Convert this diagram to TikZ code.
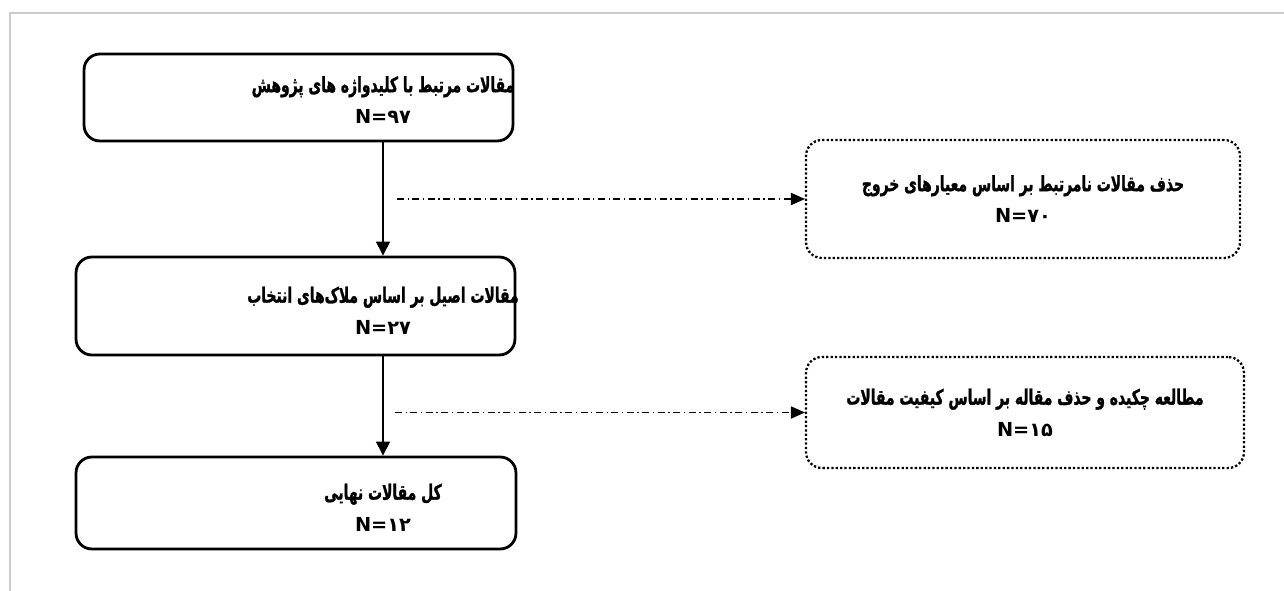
\documentclass[tikz,border=0pt]{standalone}
\usepackage{fontspec}
\setmainfont{DejaVu Sans}
\newfontfamily\arabicfont[Script=Arabic,FakeStretch=0.66,FakeBold=1.2]{DejaVu Sans}
\newfontfamily\numfont{DejaVu Sans}
\TeXXeTstate=1
\usetikzlibrary{arrows.meta}

\newcommand{\countline}[1]{{\numfont\bfseries\fontsize{11}{18}\selectfont N=#1}}

\tikzset{
  solidbox/.style={draw, line width=1.6pt, rounded corners=9pt},
  dotbox/.style={draw, line width=1.3pt, dash pattern=on 1.3pt off 1.2pt, rounded corners=9pt},
  boxtext/.style={align=center, font=\arabicfont\bfseries\fontsize{12}{18}\selectfont},
  flowarrow/.style={line width=0.6pt, -{Triangle[length=8pt,width=8pt]}},
  skiparrow/.style={line width=0.6pt, dash pattern=on 4pt off 2pt on 0.8pt off 2pt,
    -{Triangle[length=8pt,width=7pt]}}
}

\begin{document}
\begin{tikzpicture}[x=0.02cm,y=-0.02cm]
  \useasboundingbox (0,0) rectangle (1284,591);
  % frame
  \draw[black!20, line width=1pt] (1284,13) -- (10,13) -- (10,591);

  % main column
  \node[solidbox, minimum width=8.58cm, minimum height=1.74cm] (b1) at (298.5,97.5) {};
  \node[boxtext] (b1t) at (383,100) {\beginR مقالات مرتبط با کلیدواژه های پژوهش\endR\\\countline{۹۷}};
  \node[solidbox, minimum width=8.78cm, minimum height=1.96cm] (b2) at (295.5,306) {};
  \node[boxtext] (b2t) at (383,310.5) {\beginR مقالات  اصیل بر اساس ملاک‌های  انتخاب\endR\\\countline{۲۷}};
  \node[solidbox, minimum width=8.80cm, minimum height=1.84cm] (b3) at (296,503) {};
  \node[boxtext] (b3t) at (383,507.5) {\beginR کل مقالات نهایی\endR\\\countline{۱۲}};

  % removed
  \node[dotbox, boxtext, minimum width=8.68cm, minimum height=2.36cm] (d1) at (1023,199)
    {\beginR حذف مقالات نامرتبط بر اساس معیارهای خروج\endR\\\countline{۷۰}};
  \node[dotbox, boxtext, minimum width=8.76cm, minimum height=2.22cm] (d2) at (1025,412.5)
    {\beginR مطالعه چکیده و حذف  مقاله  بر اساس کیفیت مقالات\endR\\\countline{۱۵}};

  \draw[flowarrow] (b1t |- b1.south) -- (b1t |- b2.north);
  \draw[flowarrow] (b2t |- b2.south) -- (b2t |- b3.north);

  \coordinate (s1) at (397,199);
  \coordinate (s2) at (395,412.5);
  \draw[skiparrow] (s1) -- (s1 -| d1.west);
  \draw[skiparrow] (s2) -- (s2 -| d2.west);
\end{tikzpicture}
\end{document}
